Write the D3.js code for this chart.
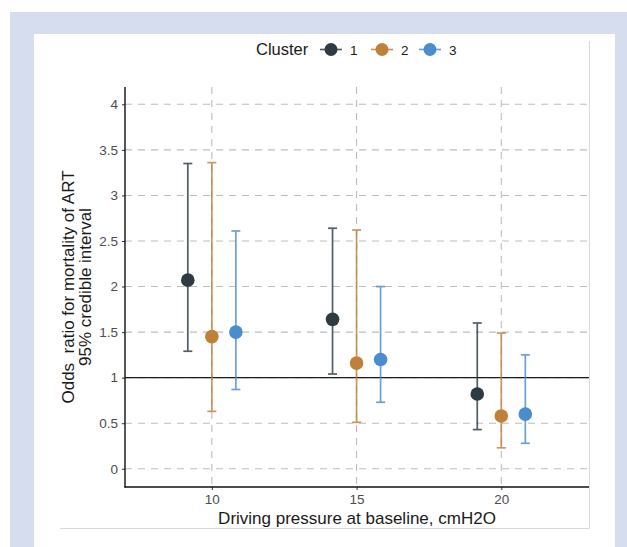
<!DOCTYPE html>
<html><head><meta charset="utf-8">
<script src="https://cdn.jsdelivr.net/npm/d3@7"></script>
<style>
html,body{margin:0;padding:0;background:#fff;}
text{font-family:"Liberation Sans",Arial,Helvetica,sans-serif;}
</style></head>
<body>
<svg id="chart" width="627" height="547"></svg>
<script>
// ---- data ----
const drivingPressure = [10, 15, 20];
const clusters = ["1", "2", "3"];
const clusterColors = ["#2e3b42", "#bf803a", "#4b8cce"];
const oddsRatio = [
  [2.07, 1.64, 0.82],   // cluster 1
  [1.45, 1.16, 0.58],   // cluster 2
  [1.50, 1.20, 0.60]    // cluster 3
];
const lowerCI = [
  [1.29, 1.04, 0.43],
  [0.63, 0.51, 0.23],
  [0.87, 0.73, 0.28]
];
const upperCI = [
  [3.35, 2.64, 1.60],
  [3.36, 2.62, 1.49],
  [2.61, 2.00, 1.25]
];
const yTicks = [0, 0.5, 1, 1.5, 2, 2.5, 3, 3.5, 4];
const yTickLabels = ["0", "0.5", "1", "1.5", "2", "2.5", "3", "3.5", "4"];
const xTicks = [10, 15, 20];

// ---- layout ----
const svg = d3.select("#chart");
svg.append("rect").attr("x", 10).attr("y", 12).attr("width", 617).attr("height", 535).attr("fill", "#d5ddef");
svg.append("rect").attr("x", 34).attr("y", 34).attr("width", 581).attr("height", 513).attr("fill", "#ffffff");
// faint outline of plot region
svg.append("line").attr("x1", 589.5).attr("x2", 589.5).attr("y1", 41).attr("y2", 528.5).attr("stroke", "#d9d9d9").attr("stroke-width", 1);
svg.append("line").attr("x1", 60).attr("x2", 589.5).attr("y1", 528.5).attr("y2", 528.5).attr("stroke", "#d9d9d9").attr("stroke-width", 1);

const L = 125, R = 589, T = 87, B = 487;
const x = d3.scaleLinear().domain([7, 23.03]).range([L, R]);
const y = d3.scaleLinear().domain([-0.2, 4.19]).range([B, T]);
const dodge = 0.83;

const g = svg.append("g");
// grid
g.selectAll(".hg").data(yTicks).enter().append("line")
  .attr("x1", L).attr("x2", R).attr("y1", d => y(d)).attr("y2", d => y(d))
  .attr("stroke", "#bdbdbd").attr("stroke-width", 1.1).attr("stroke-dasharray", "7,6");
g.selectAll(".vg").data(xTicks).enter().append("line")
  .attr("x1", d => x(d)).attr("x2", d => x(d)).attr("y1", T).attr("y2", B)
  .attr("stroke", "#bdbdbd").attr("stroke-width", 1.1).attr("stroke-dasharray", "7,6");

// reference line at 1
g.append("line").attr("x1", L).attr("x2", R).attr("y1", y(1)).attr("y2", y(1))
  .attr("stroke", "#1a1a1a").attr("stroke-width", 1.3);

// axes
const yAxis = d3.axisLeft(y).tickValues(yTicks).tickFormat((d, i) => yTickLabels[i]).tickSize(3).tickPadding(4);
const xAxis = d3.axisBottom(x).tickValues(xTicks).tickFormat(d3.format("d")).tickSize(3).tickPadding(4);
const ya = g.append("g").attr("transform", `translate(${L},0)`).call(yAxis);
const xa = g.append("g").attr("transform", `translate(0,${B})`).call(xAxis);
[ya, xa].forEach(a => {
  a.select(".domain").remove();
  a.selectAll(".tick line").attr("stroke", "#333").attr("stroke-width", 1);
  a.selectAll(".tick text").attr("fill", "#4d4d4d").style("font-size", "13.5px")
   .style("font-family", '"Liberation Sans",Arial,sans-serif');
});
g.append("line").attr("x1", L).attr("x2", L).attr("y1", T).attr("y2", B + 0.6).attr("stroke", "#111").attr("stroke-width", 1.4);
g.append("line").attr("x1", L - 0.6).attr("x2", R).attr("y1", B).attr("y2", B).attr("stroke", "#111").attr("stroke-width", 1.4);

// error bars and points
clusters.forEach((c, ci) => {
  const off = (ci - 1) * dodge;
  const grp = g.append("g");
  const rows = drivingPressure.map((dp, k) => ({ px: dp + off, est: oddsRatio[ci][k], lo: lowerCI[ci][k], hi: upperCI[ci][k] }));
  const eb = grp.append("g").attr("opacity", 0.82);
  eb.selectAll(".v").data(rows).enter().append("line")
    .attr("x1", d => x(d.px)).attr("x2", d => x(d.px)).attr("y1", d => y(d.lo)).attr("y2", d => y(d.hi))
    .attr("stroke", clusterColors[ci]).attr("stroke-width", 1.7);
  ["lo", "hi"].forEach(k => {
    eb.selectAll(".c" + k).data(rows).enter().append("line")
      .attr("x1", d => x(d.px) - 4.5).attr("x2", d => x(d.px) + 4.5).attr("y1", d => y(d[k])).attr("y2", d => y(d[k]))
      .attr("stroke", clusterColors[ci]).attr("stroke-width", 1.7);
  });
  grp.selectAll("circle").data(rows).enter().append("circle")
    .attr("cx", d => x(d.px)).attr("cy", d => y(d.est)).attr("r", 6.8).attr("fill", clusterColors[ci]);
});

// axis titles
const yt = svg.append("text").attr("transform", `translate(74,287) rotate(-90)`).attr("text-anchor", "middle")
  .style("font-size", "17px").attr("fill", "#1a1a1a");
yt.append("tspan").attr("x", 0).attr("dy", 0).text("Odds  ratio for mortality of ART").attr("xml:space", "preserve").style("white-space", "pre");
yt.append("tspan").attr("x", 0).attr("dy", 16.5).text("95% credible interval");
svg.append("text").attr("x", (L + R) / 2).attr("y", 524).attr("text-anchor", "middle")
  .style("font-size", "17px").attr("fill", "#1a1a1a").text("Driving pressure at baseline, cmH2O");

// legend
const lg = svg.append("g");
lg.append("text").attr("x", 256).attr("y", 55).style("font-size", "16.5px").attr("fill", "#1a1a1a").text("Cluster");
const keyX = [331, 382, 430];
clusters.forEach((c, ci) => {
  const kx = keyX[ci];
  lg.append("line").attr("x1", kx - 11).attr("x2", kx + 11).attr("y1", 49.5).attr("y2", 49.5)
    .attr("stroke", clusterColors[ci]).attr("stroke-width", 1.6).attr("opacity", 0.85);
  lg.append("circle").attr("cx", kx).attr("cy", 49.5).attr("r", 6.5).attr("fill", clusterColors[ci]);
  lg.append("text").attr("x", kx + 19).attr("y", 54.5).style("font-size", "13.5px").attr("fill", "#1a1a1a").text(c);
});
</script>
</body></html>
